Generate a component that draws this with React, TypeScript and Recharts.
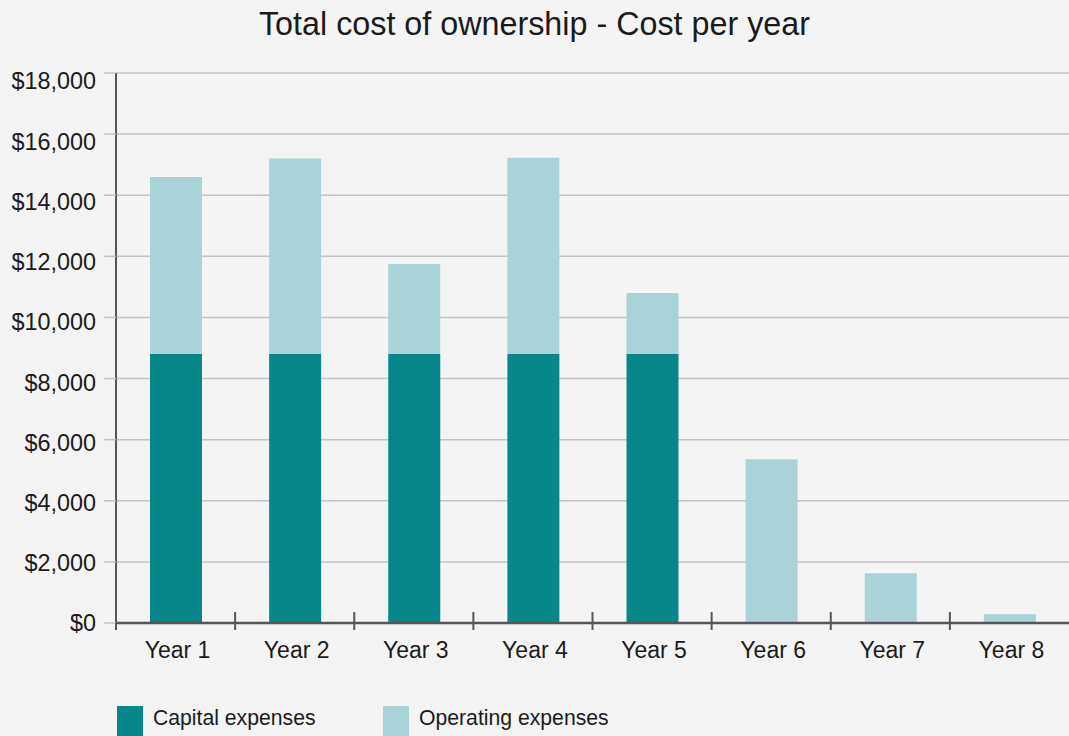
import { BarChart, Bar, XAxis, YAxis, CartesianGrid, Legend } from "recharts";

const years = ["Year 1", "Year 2", "Year 3", "Year 4", "Year 5", "Year 6", "Year 7", "Year 8"];
const capitalExpenses = [8800, 8800, 8800, 8800, 8800, 0, 0, 0];
const operatingExpenses = [5800, 6400, 2950, 6430, 2000, 5360, 1630, 290];
const yTicks = [0, 2000, 4000, 6000, 8000, 10000, 12000, 14000, 16000, 18000];

const FONT = '"Liberation Sans", Arial, Helvetica, sans-serif';
const TEXT = "#1b1b1b";
const CAPITAL = "#07878a";
const OPERATING = "#aad3d7";
const AXIS = "#56555b";
const GRID = "#c4c3c8";

const data = years.map((year, i) => ({
    year,
    capital: capitalExpenses[i],
    operating: operatingExpenses[i],
}));

const formatMoney = (v: number) => "$" + v.toLocaleString("en-US");

// label for each category + a tick mark on the left edge of its band
function XTick(props: any) {
    const { x, y, payload } = props;
    const half = payload.offset ?? 59.6;
    const left = x - half;
    return (
        <g>
            <line
                x1={left}
                x2={left}
                y1={payload.index === 0 ? y : y - 11}
                y2={y + 7}
                stroke={AXIS}
                strokeWidth={2}
            />
            <text x={x + 2} y={y + 35} textAnchor="middle" fill={TEXT} fontSize={23} fontFamily={FONT}>
                {payload.value}
            </text>
        </g>
    );
}

function YTick(props: any) {
    const { x, y, payload } = props;
    const shift = (payload.value / 18000) * 8;
    return (
        <text x={x} y={y + shift} dy="0.36em" textAnchor="end" fill={TEXT} fontSize={23.4} fontFamily={FONT}>
            {formatMoney(payload.value)}
        </text>
    );
}

function LegendContent({ payload }: any) {
    return (
        <div style={{ display: "flex", fontFamily: FONT }}>
            {(payload || []).map((entry: any) => (
                <div key={entry.value} style={{ display: "flex", alignItems: "flex-start", width: 266 }}>
                    <div style={{ width: 26, height: 32, background: entry.color }} />
                    <span style={{ marginLeft: 10, marginTop: 1, fontSize: 21.2, lineHeight: "22px", color: TEXT }}>
                        {entry.value}
                    </span>
                </div>
            ))}
        </div>
    );
}

export default function App() {
    return (
        <div
            style={{
                position: "absolute",
                top: 0,
                left: 0,
                width: 1069,
                height: 736,
                background: "#f4f4f4",
                overflow: "hidden",
                fontFamily: FONT,
            }}
        >
            <div
                style={{
                    position: "absolute",
                    top: 8,
                    left: 0,
                    width: 1069,
                    textAlign: "center",
                    fontSize: 32.3,
                    lineHeight: "32px",
                    color: TEXT,
                }}
            >
                Total cost of ownership - Cost per year
            </div>
            <BarChart
                width={1069}
                height={736}
                data={data}
                margin={{ top: 73, right: 0, left: 0, bottom: 73 }}
            >
                <CartesianGrid vertical={false} stroke={GRID} strokeWidth={1.5} />
                <XAxis
                    dataKey="year"
                    height={40}
                    axisLine={{ stroke: AXIS, strokeWidth: 2.5 }}
                    tickLine={false}
                    tickSize={0}
                    tickMargin={0}
                    tick={<XTick />}
                    interval={0}
                />
                <YAxis
                    width={116}
                    domain={[0, 18000]}
                    ticks={yTicks}
                    interval={0}
                    axisLine={{ stroke: AXIS, strokeWidth: 2 }}
                    tickLine={{ stroke: GRID, strokeWidth: 1.5 }}
                    tickSize={12}
                    tickMargin={8}
                    tick={<YTick />}
                />
                <Legend
                    layout="horizontal"
                    verticalAlign="middle"
                    content={<LegendContent />}
                    wrapperStyle={{ top: 706, left: 117, width: 700 }}
                />
                <Bar
                    dataKey="capital"
                    name="Capital expenses"
                    stackId="cost"
                    fill={CAPITAL}
                    barSize={52}
                    isAnimationActive={false}
                />
                <Bar
                    dataKey="operating"
                    name="Operating expenses"
                    stackId="cost"
                    fill={OPERATING}
                    barSize={52}
                    isAnimationActive={false}
                />
            </BarChart>
        </div>
    );
}
